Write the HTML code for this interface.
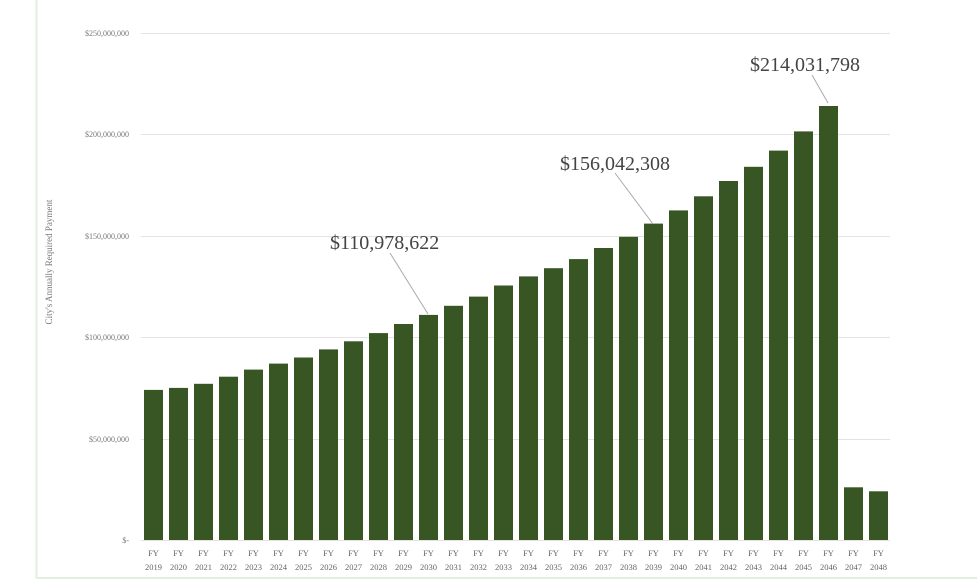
<!DOCTYPE html>
<html><head><meta charset="utf-8"><style>
html,body{margin:0;padding:0;background:#fff;}
svg{display:block;font-family:"Liberation Serif",serif;}
</style></head><body>
<svg width="977" height="583" viewBox="0 0 977 583">
<line x1="36.5" y1="0" x2="36.5" y2="578" stroke="#e2efda" stroke-width="2"/>
<line x1="36" y1="578" x2="977" y2="578" stroke="#e2efda" stroke-width="2"/>
<g stroke="#e3e3e3" stroke-width="1">
<line x1="141" y1="33.5" x2="890" y2="33.5"/>
<line x1="141" y1="134.5" x2="890" y2="134.5"/>
<line x1="141" y1="236.5" x2="890" y2="236.5"/>
<line x1="141" y1="337.5" x2="890" y2="337.5"/>
<line x1="141" y1="439.5" x2="890" y2="439.5"/>
<line x1="141" y1="540.5" x2="890" y2="540.5"/>
</g>
<g font-size="8" fill="#777" text-anchor="end">
<text x="129" y="36">$250,000,000</text>
<text x="129" y="137">$200,000,000</text>
<text x="129" y="239">$150,000,000</text>
<text x="129" y="340">$100,000,000</text>
<text x="129" y="442">$50,000,000</text>
<text x="129" y="543">$-</text>
</g>
<text transform="translate(52,262) rotate(-90)" font-size="9" fill="#777" text-anchor="middle">City's Annually Required Payment</text>
<g fill="#375623">
<rect x="144" y="389.9" width="19" height="150.1"/>
<rect x="169" y="387.9" width="19" height="152.1"/>
<rect x="194" y="383.8" width="19" height="156.2"/>
<rect x="219" y="376.7" width="19" height="163.3"/>
<rect x="244" y="369.6" width="19" height="170.4"/>
<rect x="269" y="363.6" width="19" height="176.4"/>
<rect x="294" y="357.5" width="19" height="182.5"/>
<rect x="319" y="349.4" width="19" height="190.6"/>
<rect x="344" y="341.3" width="19" height="198.7"/>
<rect x="369" y="333.1" width="19" height="206.9"/>
<rect x="394" y="324.0" width="19" height="216.0"/>
<rect x="419" y="314.9" width="19" height="225.1"/>
<rect x="444" y="305.8" width="19" height="234.2"/>
<rect x="469" y="296.6" width="19" height="243.4"/>
<rect x="494" y="285.5" width="19" height="254.5"/>
<rect x="519" y="276.4" width="19" height="263.6"/>
<rect x="544" y="268.2" width="19" height="271.8"/>
<rect x="569" y="259.1" width="19" height="280.9"/>
<rect x="594" y="248.0" width="19" height="292.0"/>
<rect x="619" y="236.8" width="19" height="303.2"/>
<rect x="644" y="223.6" width="19" height="316.4"/>
<rect x="669" y="210.4" width="19" height="329.6"/>
<rect x="694" y="196.3" width="19" height="343.7"/>
<rect x="719" y="181.0" width="19" height="359.0"/>
<rect x="744" y="166.8" width="19" height="373.2"/>
<rect x="769" y="150.6" width="19" height="389.4"/>
<rect x="794" y="131.4" width="19" height="408.6"/>
<rect x="819" y="106.0" width="19" height="434.0"/>
<rect x="844" y="487.3" width="19" height="52.7"/>
<rect x="869" y="491.3" width="19" height="48.7"/>
</g>
<g font-size="8.5" fill="#666" text-anchor="middle">
<text x="153.5" y="556">FY</text><text x="153.5" y="570">2019</text>
<text x="178.5" y="556">FY</text><text x="178.5" y="570">2020</text>
<text x="203.5" y="556">FY</text><text x="203.5" y="570">2021</text>
<text x="228.5" y="556">FY</text><text x="228.5" y="570">2022</text>
<text x="253.5" y="556">FY</text><text x="253.5" y="570">2023</text>
<text x="278.5" y="556">FY</text><text x="278.5" y="570">2024</text>
<text x="303.5" y="556">FY</text><text x="303.5" y="570">2025</text>
<text x="328.5" y="556">FY</text><text x="328.5" y="570">2026</text>
<text x="353.5" y="556">FY</text><text x="353.5" y="570">2027</text>
<text x="378.5" y="556">FY</text><text x="378.5" y="570">2028</text>
<text x="403.5" y="556">FY</text><text x="403.5" y="570">2029</text>
<text x="428.5" y="556">FY</text><text x="428.5" y="570">2030</text>
<text x="453.5" y="556">FY</text><text x="453.5" y="570">2031</text>
<text x="478.5" y="556">FY</text><text x="478.5" y="570">2032</text>
<text x="503.5" y="556">FY</text><text x="503.5" y="570">2033</text>
<text x="528.5" y="556">FY</text><text x="528.5" y="570">2034</text>
<text x="553.5" y="556">FY</text><text x="553.5" y="570">2035</text>
<text x="578.5" y="556">FY</text><text x="578.5" y="570">2036</text>
<text x="603.5" y="556">FY</text><text x="603.5" y="570">2037</text>
<text x="628.5" y="556">FY</text><text x="628.5" y="570">2038</text>
<text x="653.5" y="556">FY</text><text x="653.5" y="570">2039</text>
<text x="678.5" y="556">FY</text><text x="678.5" y="570">2040</text>
<text x="703.5" y="556">FY</text><text x="703.5" y="570">2041</text>
<text x="728.5" y="556">FY</text><text x="728.5" y="570">2042</text>
<text x="753.5" y="556">FY</text><text x="753.5" y="570">2043</text>
<text x="778.5" y="556">FY</text><text x="778.5" y="570">2044</text>
<text x="803.5" y="556">FY</text><text x="803.5" y="570">2045</text>
<text x="828.5" y="556">FY</text><text x="828.5" y="570">2046</text>
<text x="853.5" y="556">FY</text><text x="853.5" y="570">2047</text>
<text x="878.5" y="556">FY</text><text x="878.5" y="570">2048</text>
</g>
<g stroke="#aaa" stroke-width="1" fill="none">
<line x1="390" y1="253" x2="428" y2="314"/>
<line x1="615" y1="173" x2="653" y2="224"/>
<line x1="812" y1="75" x2="828" y2="103"/>
</g>
<g font-size="20" fill="#444">
<text x="330" y="249">$110,978,622</text>
<text x="560" y="170">$156,042,308</text>
<text x="750" y="71">$214,031,798</text>
</g>
</svg>
</body></html>
